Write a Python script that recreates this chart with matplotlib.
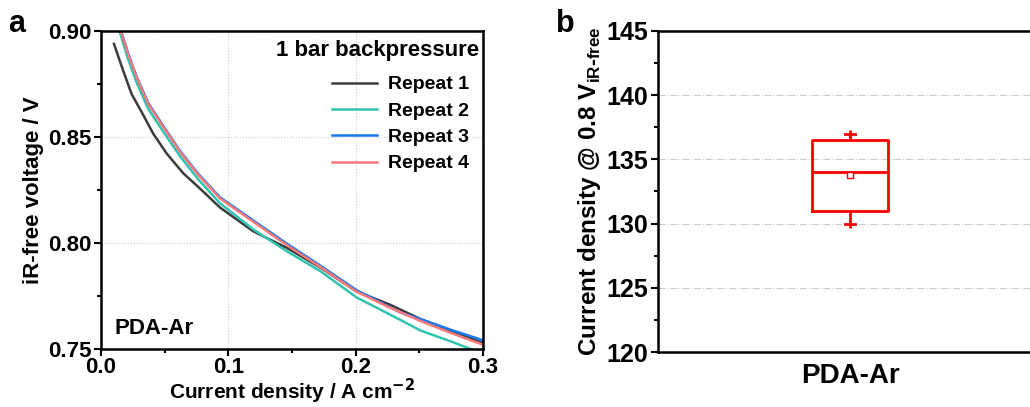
import matplotlib
matplotlib.use("Agg")
from matplotlib import pyplot as plt
from matplotlib.ticker import MultipleLocator

plt.rcParams['font.family'] = ['Liberation Sans', 'DejaVu Sans']
plt.rcParams['font.weight'] = 'bold'
plt.rcParams['axes.labelweight'] = 'bold'
plt.rcParams['mathtext.default'] = 'bf'

# polarisation curves, current density (A cm-2) vs iR-free voltage (V)
x_rep1 = [0.0102, 0.0175, 0.0241, 0.0320, 0.0411, 0.0516, 0.0646, 0.0777, 0.0935, 0.1196,
          0.1459, 0.172, 0.2008, 0.227, 0.2505, 0.275, 0.300]
y_rep1 = [0.8939, 0.8812, 0.8702, 0.8617, 0.8515, 0.8422, 0.8329, 0.8257, 0.8167, 0.8055,
          0.7977, 0.7885, 0.7771, 0.7709, 0.7642, 0.7585, 0.7528]

x_rep2 = [0.0125, 0.0145, 0.0214, 0.0280, 0.0371, 0.0489, 0.0620, 0.0764, 0.0935, 0.1196,
          0.1459, 0.172, 0.2008, 0.2348, 0.2505, 0.275, 0.300]
y_rep2 = [0.904, 0.900, 0.8865, 0.8757, 0.8633, 0.8525, 0.8410, 0.8300, 0.8187, 0.8064,
          0.7961, 0.7868, 0.7743, 0.7638, 0.7588, 0.7535, 0.7477]

x_rep3 = [0.0125, 0.0155, 0.0214, 0.0280, 0.0371, 0.0489, 0.0620, 0.0764, 0.0935, 0.1196,
          0.1459, 0.172, 0.2008, 0.2348, 0.2505, 0.275, 0.300]
y_rep3 = [0.9075, 0.9005, 0.8894, 0.8785, 0.8661, 0.8552, 0.8435, 0.8326, 0.8215, 0.8106,
          0.7997, 0.7894, 0.7777, 0.7673, 0.7642, 0.7590, 0.7541]

x_rep4 = [0.0125, 0.0155, 0.0214, 0.0280, 0.0371, 0.0489, 0.0620, 0.0764, 0.0935, 0.1196,
          0.1459, 0.172, 0.2008, 0.225, 0.2505, 0.275, 0.300]
y_rep4 = [0.907, 0.900, 0.8889, 0.8780, 0.8656, 0.8547, 0.8430, 0.8321, 0.8210, 0.8100,
          0.7990, 0.7888, 0.7770, 0.7700, 0.7633, 0.7575, 0.7520]

labels = ['Repeat 1', 'Repeat 2', 'Repeat 3', 'Repeat 4']
colors = ['#3c3c3c', '#30c4b0', '#1a78f0', '#f87a7a']

# box statistics of current density at 0.8 V iR-free
box_label = 'PDA-Ar'
box_q1 = 131.0
box_med = 134.0
box_q3 = 136.5
box_lo = 130.0
box_hi = 137.0
box_mean = 133.8

fig = plt.figure(figsize=(10.30, 4.07), dpi=100)

# ---- panel a ----
ax = fig.add_axes([0.098, 0.1425, 0.371, 0.7815])
for xs, ys, lab, c in zip([x_rep1, x_rep2, x_rep3, x_rep4],
                          [y_rep1, y_rep2, y_rep3, y_rep4], labels, colors):
    ax.plot(xs, ys, color=c, lw=1.8, label=lab)
ax.set_xlim(0, 0.3)
ax.set_ylim(0.75, 0.90)
ax.xaxis.set_major_locator(MultipleLocator(0.1))
ax.xaxis.set_minor_locator(MultipleLocator(0.05))
ax.yaxis.set_major_locator(MultipleLocator(0.05))
ax.yaxis.set_minor_locator(MultipleLocator(0.025))
ax.xaxis.set_major_formatter(lambda v, p: '%.1f' % v)
ax.yaxis.set_major_formatter(lambda v, p: '%.2f' % v)
ax.grid(True, which='major', ls=':', color='#cccccc', lw=0.8)
ax.tick_params(which='major', direction='out', length=5, width=1.5, labelsize=16, pad=2)
ax.tick_params(axis='x', which='major', pad=1)
ax.tick_params(which='minor', direction='out', length=3, width=1.5)
ax.tick_params(top=False, right=False)
for s in ax.spines.values():
    s.set_linewidth(1.8)
ax.set_xlabel('Current density / A cm$^{-2}$', fontsize=15, labelpad=-1)
ax.set_ylabel('iR-free voltage / V', fontsize=16, labelpad=3)
ax.text(0.99, 0.94, '1 bar backpressure', transform=ax.transAxes, ha='right', va='center', fontsize=16)
ax.legend(loc='upper right', bbox_to_anchor=(1.0, 0.902), frameon=False, fontsize=14,
          handlelength=2.3, handletextpad=0.6, labelspacing=0.45, borderaxespad=0.3)
ax.text(0.035, 0.065, 'PDA-Ar', transform=ax.transAxes, ha='left', va='center', fontsize=16)
fig.text(0.008, 0.94, 'a', fontsize=22, va='center')

# ---- panel b ----
bx = fig.add_axes([0.639, 0.135, 0.373, 0.789])
stats = [dict(label=box_label, q1=box_q1, med=box_med, q3=box_q3,
              whislo=box_lo, whishi=box_hi, mean=box_mean)]
red = '#ff0000'
bx.bxp(stats, positions=[1], widths=0.396, capwidths=0.05, showmeans=True, showfliers=False,
       boxprops=dict(color=red, lw=2), medianprops=dict(color=red, lw=2),
       whiskerprops=dict(color=red, lw=2), capprops=dict(color=red, lw=2),
       meanprops=dict(marker='s', markersize=4, markerfacecolor='white',
                      markeredgecolor=red, markeredgewidth=1))
bx.plot([1, 1], [box_lo, box_hi], ls='none', marker='|', markersize=6, mew=2, color=red)
bx.set_xlim(0, 2)
bx.set_ylim(120, 145)
bx.yaxis.set_major_locator(MultipleLocator(5))
bx.yaxis.set_minor_locator(MultipleLocator(2.5))
bx.grid(True, axis='y', which='major', ls='-.', color='#cccccc', lw=0.8)
bx.tick_params(axis='y', which='major', direction='out', length=5, width=1.5, labelsize=18, pad=2)
bx.tick_params(axis='y', which='minor', direction='out', length=3, width=1.5)
bx.tick_params(axis='x', length=0, labelsize=20, pad=8)
for s in bx.spines.values():
    s.set_linewidth(1.8)
bx.set_ylabel('Current density @ 0.8 V$_{\\mathregular{iR\\text{-}free}}$', fontsize=17.5, labelpad=3)
fig.text(0.540, 0.94, 'b', fontsize=22, va='center')

fig.savefig('out.png', dpi=100)
